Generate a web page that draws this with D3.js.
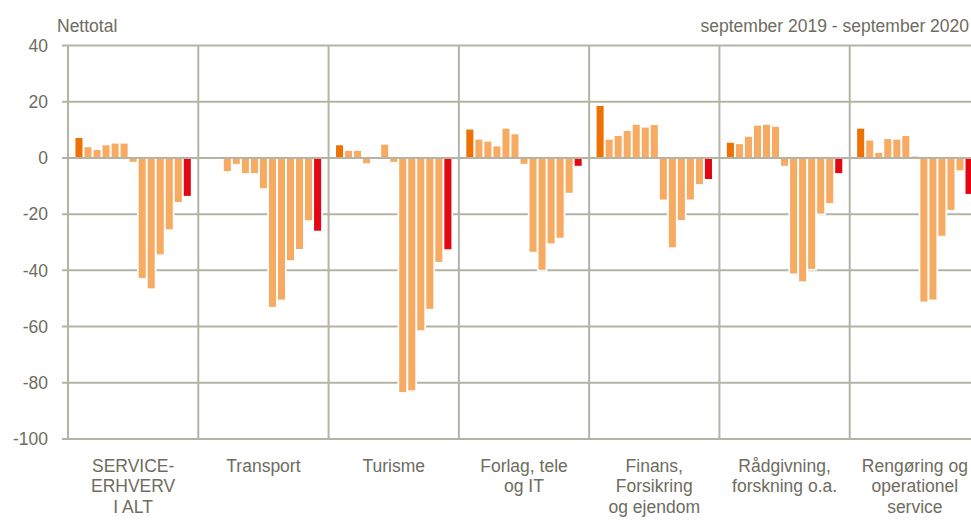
<!DOCTYPE html>
<html>
<head>
<meta charset="utf-8">
<script src="https://cdn.jsdelivr.net/npm/d3@7"></script>
<style>
  html, body { margin: 0; padding: 0; background: #fff; }
  svg { display: block; }
  text { font-family: "Liberation Sans", Arial, sans-serif; fill: #6e6c60; }
</style>
</head>
<body>
<svg id="chart" width="971" height="523"></svg>
<script>
// ---- data ----
const months = ["sep 2019","okt 2019","nov 2019","dec 2019","jan 2020","feb 2020","mar 2020",
                "apr 2020","maj 2020","jun 2020","jul 2020","aug 2020","sep 2020"];
const categories = ["SERVICE-\nERHVERV\nI ALT", "Transport", "Turisme", "Forlag, tele\nog IT",
                    "Finans,\nForsikring\nog ejendom", "Rådgivning,\nforskning o.a.", "Rengøring og\noperationel\nservice"];
const serviceAlt  = [7.1, 3.8, 2.8, 4.5, 5.1, 5.1, -1.4, -42.7, -46.4, -34.3, -25.4, -15.7, -13.5];
const transport   = [0, 0, -4.7, -2.1, -5.4, -5.4, -10.8, -53.0, -50.4, -36.4, -32.4, -22.2, -25.9];
const turisme     = [4.5, 2.5, 2.5, -1.9, 0, 4.7, -1.4, -83.3, -82.7, -61.3, -53.7, -37.0, -32.5];
const forlag      = [10.1, 6.5, 5.8, 4.1, 10.4, 8.4, -2.1, -33.4, -39.8, -30.4, -28.4, -12.4, -2.8];
const finans      = [18.5, 6.5, 7.8, 9.6, 11.8, 10.8, 11.7, -14.8, -31.8, -22.1, -14.8, -9.3, -7.5];
const raadgivning = [5.4, 4.9, 7.5, 11.5, 11.8, 11.1, -2.8, -41.1, -43.9, -39.5, -19.8, -16.1, -5.4];
const rengoering  = [10.4, 6.2, 1.8, 6.7, 6.5, 7.8, 0.5, -51.1, -50.4, -27.7, -18.5, -4.4, -12.8];
const yTicks = [40, 20, 0, -20, -40, -60, -80, -100];
const yLabel = "Nettotal";
const periodLabel = "september 2019 - september 2020";

const seriesByCategory = [serviceAlt, transport, turisme, forlag, finans, raadgivning, rengoering];

// ---- layout ----
const svg = d3.select("#chart");
const gridColor = "#b4b3a6";
const colFirst = "#ee7203", colMid = "#f7ab62", colLast = "#e30613";

const x0 = d3.scaleBand().domain(categories).range([68, 980]).padding(0);
const x1 = d3.scaleBand().domain(months).range([0, x0.bandwidth()])
             .paddingInner(0.22).paddingOuter(0.825);
const y = d3.scaleLinear().domain([-100, 40]).range([439, 45.5]);

// horizontal gridlines + tick marks
svg.append("g").selectAll("line").data(yTicks.filter(d => d !== 0)).join("line")
  .attr("x1", 62).attr("x2", 980)
  .attr("y1", d => y(d)).attr("y2", d => y(d))
  .attr("stroke", gridColor).attr("stroke-width", 2);

// vertical separators
const seps = categories.map(c => x0(c)).concat([x0.range()[1]]);
svg.append("g").selectAll("line").data(seps).join("line")
  .attr("x1", d => d).attr("x2", d => d)
  .attr("y1", y(40)).attr("y2", y(-100))
  .attr("stroke", gridColor).attr("stroke-width", 2);

// y tick labels
svg.append("g").selectAll("text").data(yTicks).join("text")
  .attr("x", 48).attr("y", d => y(d)).attr("dy", "0.36em")
  .attr("text-anchor", "end").style("font-size", "17.5px")
  .text(d => d);

// bars
const flat = [];
categories.forEach((c, ci) => {
  seriesByCategory[ci].forEach((v, mi) => flat.push({c, m: months[mi], mi, v}));
});
const barsG = svg.append("g");
const visible = flat.filter(d => d.v !== 0);
// white halo under bars (hides gridlines near bars)
barsG.selectAll("rect.halo").data(visible).join("rect").attr("class", "halo")
  .attr("x", d => x0(d.c) + x1(d.m))
  .attr("width", x1.bandwidth())
  .attr("y", d => Math.min(y(d.v), y(0)))
  .attr("height", d => Math.abs(y(d.v) - y(0)))
  .attr("fill", "#fff").attr("stroke", "#fff").attr("stroke-width", 3.4);
barsG.selectAll("rect.bar").data(visible).join("rect").attr("class", "bar")
  .attr("x", d => x0(d.c) + x1(d.m))
  .attr("width", x1.bandwidth())
  .attr("y", d => Math.min(y(d.v), y(0)))
  .attr("height", d => Math.abs(y(d.v) - y(0)))
  .attr("fill", d => d.mi === 0 ? colFirst : (d.mi === months.length - 1 ? colLast : colMid));

// zero line on top
svg.append("line")
  .attr("x1", 62).attr("x2", 980)
  .attr("y1", y(0)).attr("y2", y(0))
  .attr("stroke", gridColor).attr("stroke-width", 2);

// category labels
const catG = svg.append("g");
categories.forEach(c => {
  const t = catG.append("text")
    .attr("x", x0(c) + x0.bandwidth() / 2)
    .attr("y", 471.5)
    .attr("text-anchor", "middle")
    .style("font-size", "17.5px");
  c.split("\n").forEach((line, i) => {
    t.append("tspan").attr("x", x0(c) + x0.bandwidth() / 2)
      .attr("dy", i === 0 ? 0 : 20.5).text(line);
  });
});

// titles
svg.append("text").attr("x", 57).attr("y", 32).style("font-size", "17.5px").text(yLabel);
svg.append("text").attr("x", 969).attr("y", 32).attr("text-anchor", "end")
  .style("font-size", "17.5px").text(periodLabel);
</script>
</body>
</html>
